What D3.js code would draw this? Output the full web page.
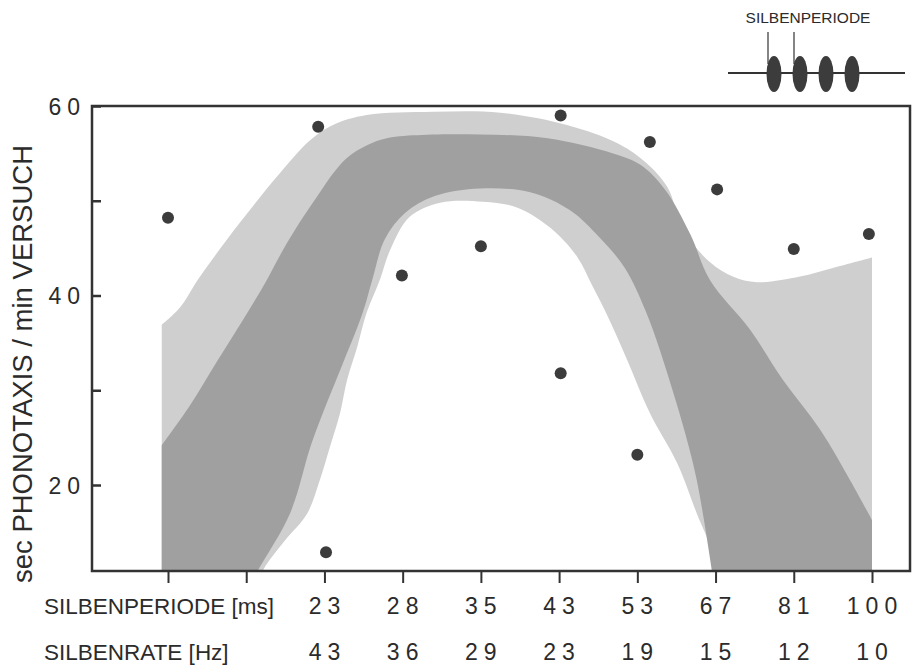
<!DOCTYPE html>
<html>
<head>
<meta charset="utf-8">
<script src="https://cdn.jsdelivr.net/npm/d3@7"></script>
<style>
  body { margin: 0; background: #fff; }
  text { font-family: "Liberation Sans", Arial, sans-serif; fill: #2b2b2b; }
</style>
</head>
<body>
<div id="chart"></div>
<script>
// x positions are category indexes (0..9), y values in sec phonotaxis / min
const periodLabels = ["", "", "23", "28", "35", "43", "53", "67", "81", "100"]
const rateLabels = ["", "", "43", "36", "29", "23", "19", "15", "12", "10"]
const yTickValues = [20, 30, 40, 50, 60]
const yLabelValues = [20, 40, 60]

// scatter points
const dotPos = [0, 1.92, 2.02, 2.99, 4.0, 5.02, 5.02, 6.0, 6.16, 7.02, 8.0, 8.96]
const dotVal = [48.2, 57.8, 12.9, 42.1, 45.2, 59.0, 31.8, 23.2, 56.2, 51.2, 44.9, 46.5]

// outer (light) band
const outerTop = [[-0.08, 36.9], [0.15, 38.7], [0.41, 42.0], [0.92, 47.7], [1.43, 52.9], [1.82, 56.4],
  [2.11, 58.0], [2.54, 59.05], [3.39, 59.4], [4.25, 59.3], [5.10, 58.0], [5.74, 56.1], [6.07, 54.3],
  [6.38, 51.5], [6.59, 46.9], [6.93, 43.5], [7.22, 42.0], [7.53, 41.4], [8.08, 42.0], [8.5, 42.9], [9.0, 44.0]]
const outerBottom = [[-0.08, 8], [1.0, 8], [1.25, 11.5], [1.5, 14.2], [1.78, 17.0], [1.94, 20.5], [2.07, 24.0],
  [2.2, 27.6], [2.29, 31.1], [2.42, 34.6], [2.54, 38.2], [2.71, 41.7], [2.84, 44.8], [3.09, 48.3], [3.48, 49.8],
  [4.03, 49.9], [4.46, 49.3], [4.88, 47.2], [5.23, 44.1], [5.42, 41.1], [5.61, 38.0], [5.87, 33.2], [6.16, 27.6],
  [6.51, 22.3], [6.76, 17.0], [6.93, 13.5], [7.0, 10], [7.05, 8], [9.0, 8]]

// inner (dark) band
const innerTop = [[-0.08, 24.2], [0.28, 28.4], [0.6, 32.7], [0.92, 36.9], [1.24, 41.3], [1.47, 44.8],
  [1.69, 47.8], [1.91, 50.5], [2.14, 53.2], [2.33, 54.8], [2.71, 56.4], [3.13, 56.9], [3.99, 57.0],
  [4.85, 56.6], [5.69, 55.0], [6.04, 53.8], [6.36, 51.1], [6.68, 46.4], [6.93, 41.6], [7.44, 36.4],
  [7.86, 31.1], [8.34, 25.8], [8.72, 20.5], [9.0, 16.3]]
const innerBottom = [[-0.08, 8], [0.95, 8], [1.15, 11], [1.56, 17.0], [1.82, 24.0], [1.98, 27.6], [2.2, 32.1],
  [2.49, 38.2], [2.61, 41.6], [2.77, 45.9], [3.03, 48.7], [3.41, 50.5], [3.99, 51.3], [4.63, 50.9],
  [5.14, 49.0], [5.52, 46.1], [5.84, 42.9], [6.10, 38.5], [6.29, 34.2], [6.45, 30.0], [6.60, 25.8],
  [6.76, 20.5], [6.97, 10], [7.0, 8], [9.0, 8]]

const legendPulses = [0, 1, 2, 3]

const W = 916, H = 667
const FRAME = { LEFT: 92, RIGHT: 910, TOP: 106, BOTTOM: 571 }

const svg = d3.select("#chart").append("svg")
  .attr("width", W)
  .attr("height", H)

const x = d3.scaleLinear().domain([0, 9]).range([168, 872])
const y = d3.scaleLinear().domain([60, 20]).range([106, 485])

svg.append("clipPath").attr("id", "plot")
  .append("rect")
    .attr("x", FRAME.LEFT).attr("y", FRAME.TOP)
    .attr("width", FRAME.RIGHT - FRAME.LEFT).attr("height", FRAME.BOTTOM - FRAME.TOP)

const edge = d3.line()
  .x(d => x(d[0]))
  .y(d => y(d[1]))
  .curve(d3.curveCatmullRom.alpha(0.5))

function band(top, bottom) {
  const a = edge(top)
  const b = edge(bottom.slice().reverse()).replace(/^M/, "L")
  return a + b + "Z"
}

const bands = svg.append("g").attr("clip-path", "url(#plot)")
bands.append("path")
  .attr("d", band(outerTop, outerBottom))
  .attr("fill", "#cfcfcf")
bands.append("path")
  .attr("d", band(innerTop, innerBottom))
  .attr("fill", "#a0a0a0")

// dots
svg.append("g").selectAll("circle")
  .data(dotPos)
  .enter().append("circle")
    .attr("cx", d => x(d))
    .attr("cy", (d, i) => y(dotVal[i]))
    .attr("r", 6)
    .attr("fill", "#3c3c3c")

// frame
svg.append("rect")
  .attr("x", FRAME.LEFT).attr("y", FRAME.TOP)
  .attr("width", FRAME.RIGHT - FRAME.LEFT).attr("height", FRAME.BOTTOM - FRAME.TOP)
  .attr("fill", "none")
  .attr("stroke", "#333")
  .attr("stroke-width", 2.5)

// y axis, ticks pointing inward
const yAxis = svg.append("g")
  .attr("transform", `translate(${FRAME.LEFT}, 0)`)
  .call(d3.axisLeft(y)
    .tickValues(yTickValues)
    .tickSize(-9)
    .tickPadding(0)
    .tickFormat(d => yLabelValues.includes(d) ? d : ""))
yAxis.select(".domain").remove()
yAxis.selectAll(".tick line").attr("stroke", "#333").attr("stroke-width", 2.5)
yAxis.selectAll(".tick text")
  .attr("x", -6)
  .attr("dy", "0.36em")
  .style("font-size", "23px")
  .style("letter-spacing", "6px")
  .style("font-family", "'Liberation Sans', Arial, sans-serif")
  .attr("fill", "#2b2b2b")

// x axis, ticks downward
const xAxis = svg.append("g")
  .attr("transform", `translate(0, ${FRAME.BOTTOM})`)
  .call(d3.axisBottom(x)
    .tickValues(d3.range(periodLabels.length))
    .tickSize(12)
    .tickFormat(""))
xAxis.select(".domain").remove()
xAxis.selectAll(".tick line").attr("stroke", "#333").attr("stroke-width", 2)

svg.append("g").selectAll("text")
  .data(periodLabels)
  .enter().append("text")
    .attr("x", (d, i) => x(i) + 3)
    .attr("y", 614)
    .attr("text-anchor", "middle")
    .style("font-size", "23px")
    .style("letter-spacing", "6px")
    .text(d => d)

svg.append("g").selectAll("text")
  .data(rateLabels)
  .enter().append("text")
    .attr("x", (d, i) => x(i) + 3)
    .attr("y", 660)
    .attr("text-anchor", "middle")
    .style("font-size", "23px")
    .style("letter-spacing", "6px")
    .text(d => d)

svg.append("text")
  .attr("x", 44).attr("y", 614)
  .style("font-size", "22.5px")
  .text("SILBENPERIODE [ms]")

svg.append("text")
  .attr("x", 44).attr("y", 660)
  .style("font-size", "22.5px")
  .text("SILBENRATE [Hz]")

svg.append("text")
  .attr("transform", "translate(32, 364) rotate(-90)")
  .attr("text-anchor", "middle")
  .style("font-size", "27.5px")
  .text("sec PHONOTAXIS / min VERSUCH")

// legend sketch: syllable period
const lg = svg.append("g")
lg.append("text")
  .attr("x", 808).attr("y", 23)
  .attr("text-anchor", "middle")
  .style("font-size", "15.5px")
  .text("SILBENPERIODE")
lg.append("line")
  .attr("x1", 728).attr("x2", 905)
  .attr("y1", 73).attr("y2", 73)
  .attr("stroke", "#333").attr("stroke-width", 2)
lg.selectAll("ellipse")
  .data(legendPulses)
  .enter().append("ellipse")
    .attr("cx", d => 774 + d * 26)
    .attr("cy", 74)
    .attr("rx", 7.5)
    .attr("ry", 18)
    .attr("fill", "#3c3c3c")
lg.selectAll(".mark")
  .data([0, 1])
  .enter().append("line")
    .attr("class", "mark")
    .attr("x1", d => 768 + d * 26).attr("x2", d => 768 + d * 26)
    .attr("y1", 32).attr("y2", 64)
    .attr("stroke", "#333").attr("stroke-width", 1.2)
</script>
</body>
</html>
